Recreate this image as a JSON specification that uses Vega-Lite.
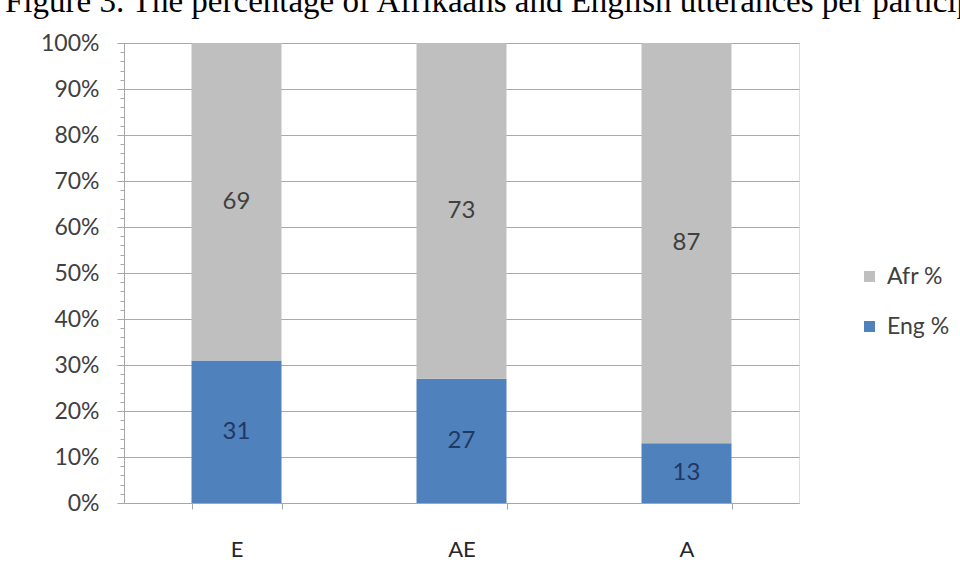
{
  "$schema": "https://vega.github.io/schema/vega-lite/v6.json",
  "width": 675,
  "height": 460,
  "autosize": {"type": "none"},
  "padding": {"left": 124, "top": 43, "right": 161, "bottom": 79},
  "background": "white",
  "title": {
    "text": "Figure 3. The percentage of Afrikaans and English utterances per participant",
    "anchor": "start",
    "frame": "group",
    "font": "Liberation Serif",
    "fontSize": 33,
    "fontWeight": "normal",
    "color": "black",
    "dx": -119,
    "offset": -13,
    "baseline": "alphabetic"
  },
  "data": {
    "values": [
      {"participant": "E", "series": "Eng %", "pct": 31},
      {"participant": "E", "series": "Afr %", "pct": 69},
      {"participant": "AE", "series": "Eng %", "pct": 27},
      {"participant": "AE", "series": "Afr %", "pct": 73},
      {"participant": "A", "series": "Eng %", "pct": 13},
      {"participant": "A", "series": "Afr %", "pct": 87}
    ]
  },
  "encoding": {
    "x": {
      "field": "participant",
      "type": "nominal",
      "sort": ["E", "AE", "A"],
      "scale": {"paddingInner": 0.6, "paddingOuter": 0.3},
      "axis": {
        "title": null,
        "tickBand": "extent",
        "tickSize": 6,
        "tickColor": "#a6a6a6",
        "domainColor": "#a6a6a6",
        "labelFont": "Lato",
        "labelFontSize": 22,
        "labelColor": "#262626",
        "labelPadding": 30,
        "labelAngle": 0,
        "grid": false
      }
    }
  },
  "layer": [
    {
      "mark": {"type": "bar"},
      "encoding": {
        "y": {
          "field": "pct",
          "type": "quantitative",
          "stack": "zero",
          "scale": {"domain": [0, 100], "nice": false},
          "axis": {
            "title": null,
            "values": [0,2,4,6,8,10,12,14,16,18,20,22,24,26,28,30,32,34,36,38,40,42,44,46,48,50,52,54,56,58,60,62,64,66,68,70,72,74,76,78,80,82,84,86,88,90,92,94,96,98,100],
            "labelExpr": "datum.value % 10 === 0 ? datum.value + '%' : ''",
            "grid": true,
            "gridColor": "#a9a9a9",
            "gridOpacity": {"condition": {"test": "datum.value % 10 === 0", "value": 1}, "value": 0},
            "tickSize": {"condition": {"test": "datum.value % 10 === 0", "value": 7}, "value": 4},
            "tickColor": "#a6a6a6",
            "domainColor": "#a6a6a6",
            "labelFont": "Lato",
            "labelFontSize": 23,
            "labelColor": "#404040",
            "labelPadding": 18
          }
        },
        "order": {"field": "series", "sort": "descending"},
        "color": {
          "field": "series",
          "type": "nominal",
          "scale": {"domain": ["Afr %", "Eng %"], "range": ["#BFBFBF", "#4F81BD"]},
          "legend": {
            "orient": "none",
            "legendX": 734,
            "legendY": 222,
            "title": null,
            "symbolType": "square",
            "symbolSize": 121,
            "symbolStrokeWidth": 0,
            "labelFont": "Lato",
            "labelFontSize": 23,
            "labelColor": "#404040",
            "rowPadding": 26,
            "labelOffset": 6
          }
        }
      }
    },
    {
      "transform": [{"filter": "datum.series === 'Eng %'"}],
      "mark": {"type": "text", "font": "Lato", "fontSize": 24, "baseline": "middle", "color": "#1F3864"},
      "encoding": {
        "text": {"field": "pct", "type": "quantitative"},
        "y": {
          "field": "pct",
          "type": "quantitative",
          "stack": null,
          "scale": {"domain": [0, 200], "nice": false},
          "axis": null
        }
      }
    },
    {
      "transform": [{"filter": "datum.series === 'Afr %'"}],
      "mark": {"type": "text", "font": "Lato", "fontSize": 24, "baseline": "middle", "color": "#404040"},
      "encoding": {
        "text": {"field": "pct", "type": "quantitative"},
        "y": {
          "field": "pct",
          "type": "quantitative",
          "stack": null,
          "scale": {"domain": [0, 200], "nice": false, "reverse": true},
          "axis": null
        }
      }
    }
  ],
  "resolve": {"scale": {"y": "independent"}}
}
